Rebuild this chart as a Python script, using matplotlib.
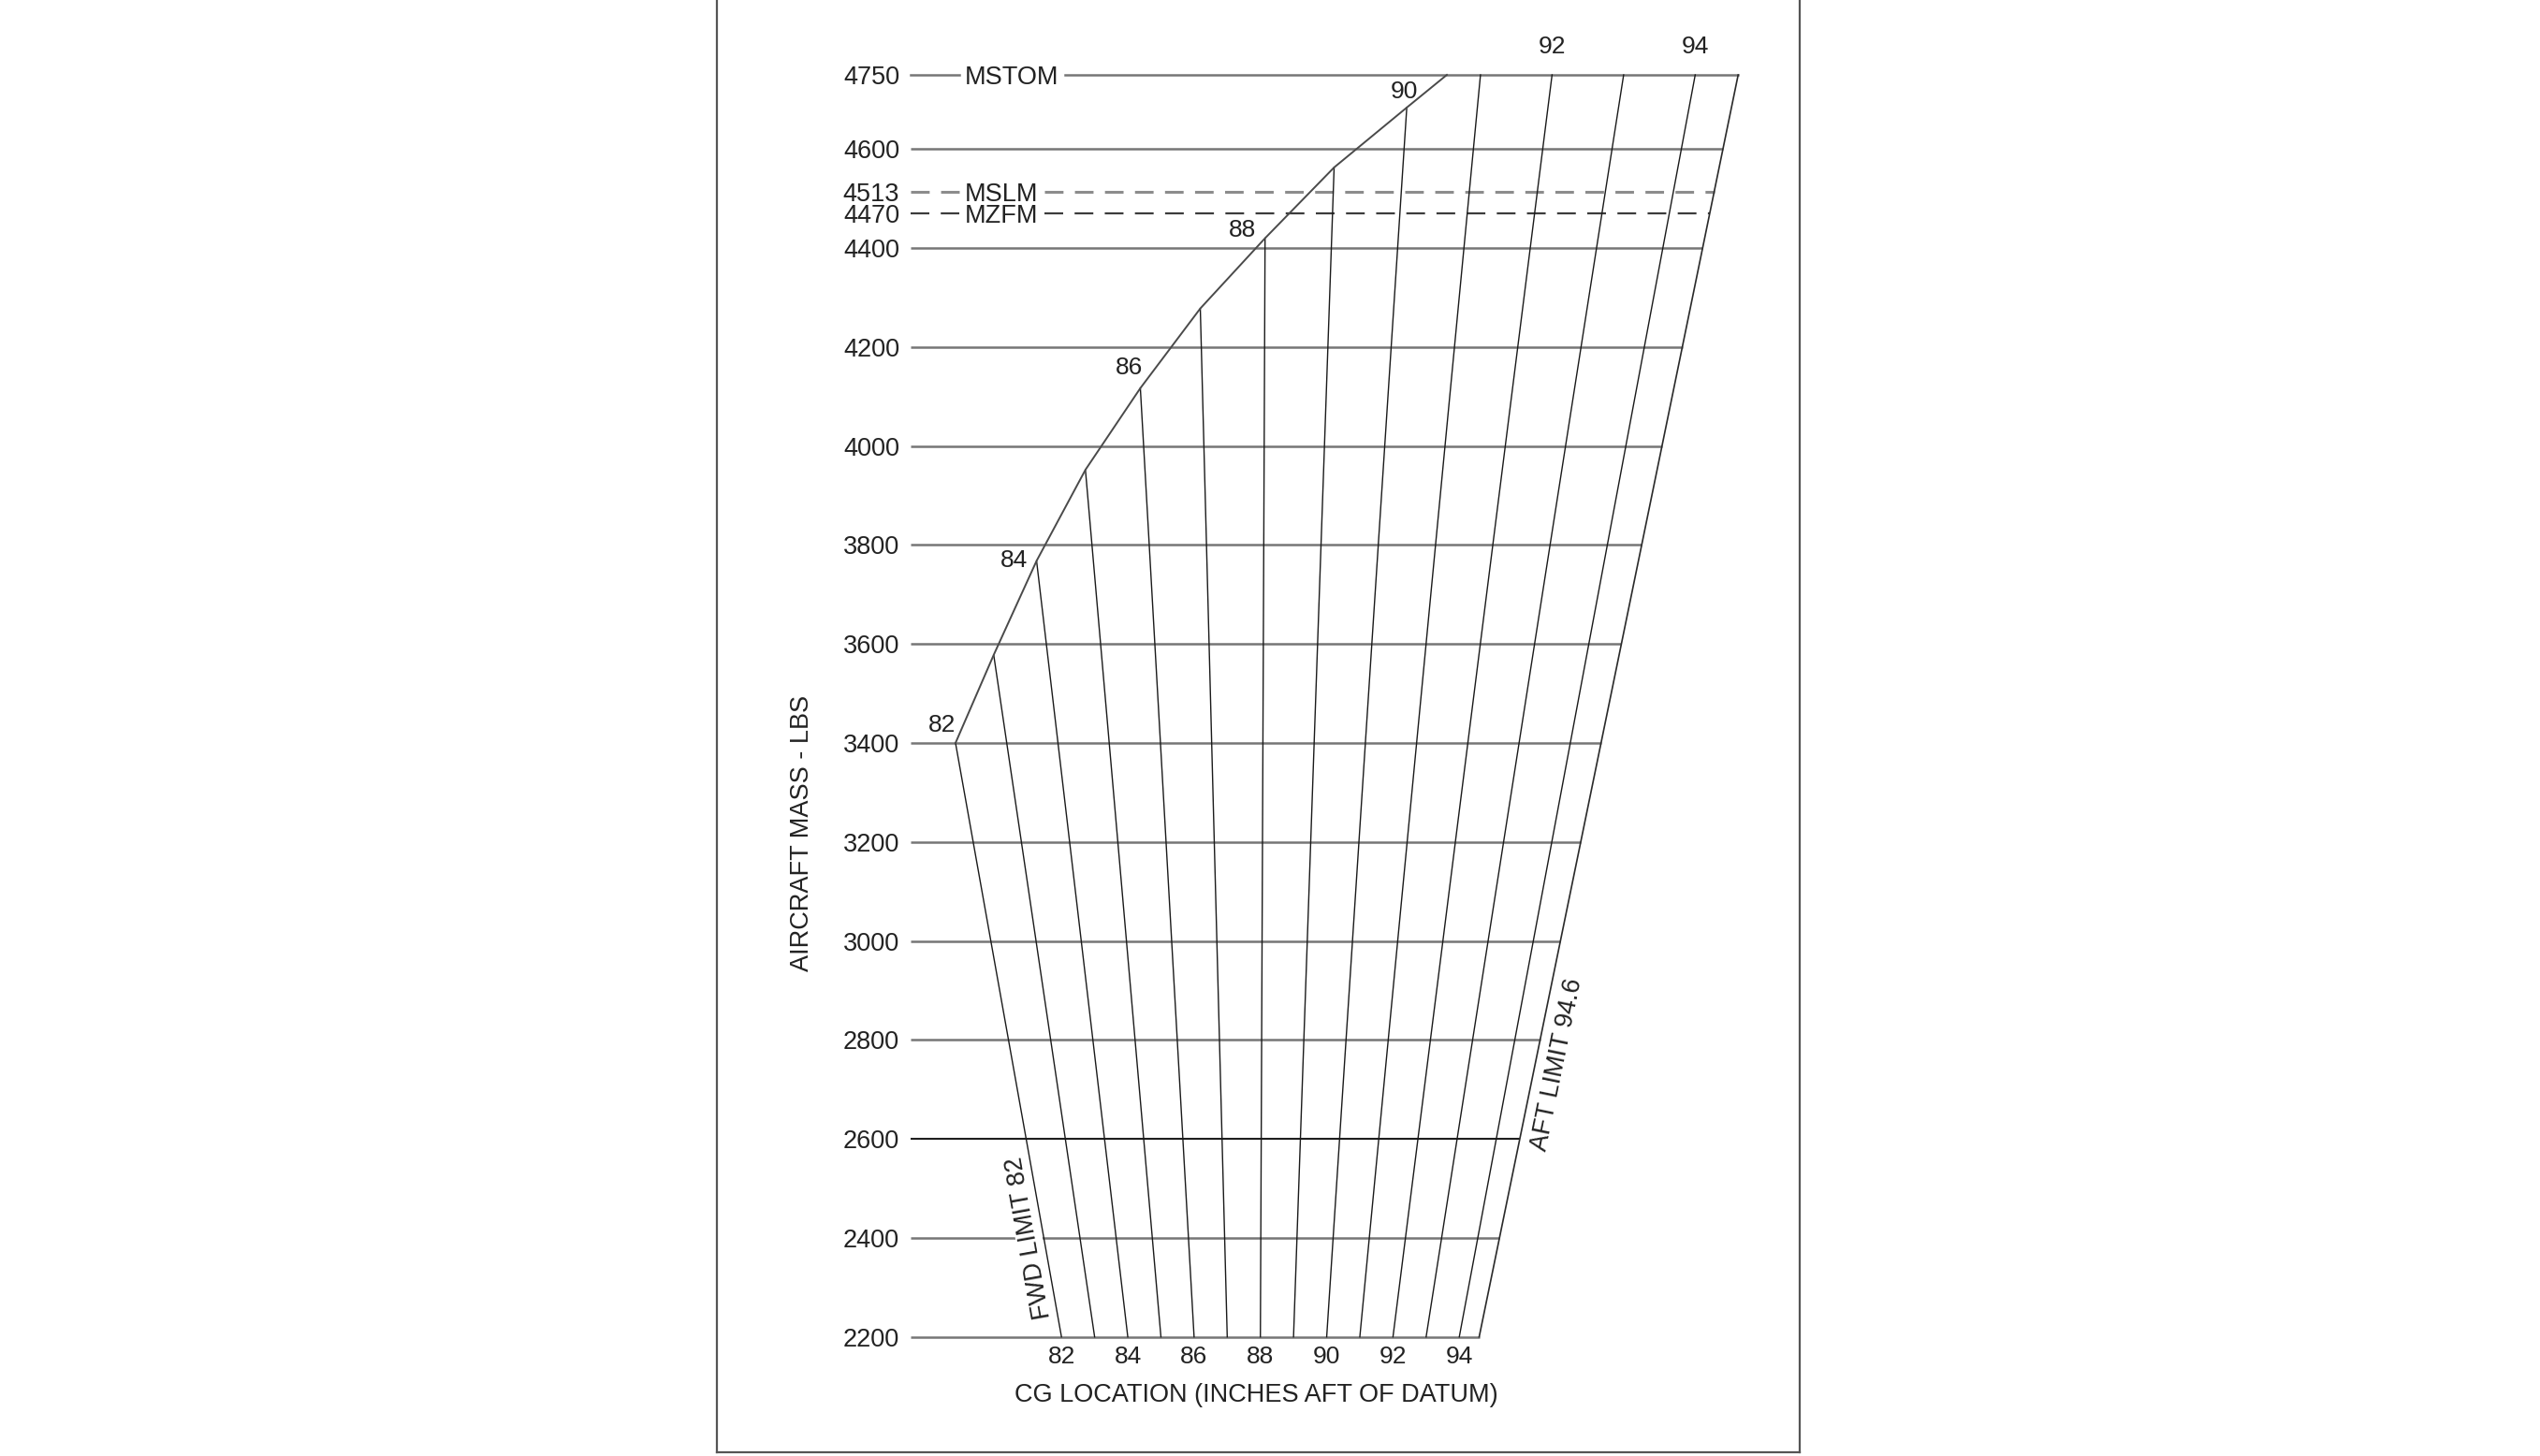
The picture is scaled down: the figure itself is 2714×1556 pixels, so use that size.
import numpy as np
import matplotlib.pyplot as plt

plt.rcParams['font.family'] = ['Liberation Sans', 'DejaVu Sans']

# horizontal mass lines (lbs)
grid_mass = [2200, 2400, 2600, 2800, 3000, 3200, 3400, 3600, 3800, 4000, 4200, 4400, 4600]
limit_mass = [4750, 4513, 4470]
limit_name = ['MSTOM', 'MSLM', 'MZFM']

# CG lines (inches aft of datum)
cg_values = [82, 83, 84, 85, 86, 87, 88, 89, 90, 91, 92, 93, 94]
# forward limit curve above 3400 lbs
fwd_cg = [82, 83, 84, 85, 86, 87, 88, 89, 90, 90.53]
fwd_mass = [3400, 3578, 3768, 3952, 4117, 4278, 4420, 4563, 4684, 4750]
aft_cg = 94.6
min_mass = 2200
max_mass = 4750

bottom_ticks = [82, 84, 86, 88, 90, 92, 94]
curve_ticks = [82, 84, 86, 88, 90]
top_ticks = [92, 94]

CG_REF = 87.86      # the cg line that stands upright on the chart


def mx(cg, m):
    # horizontal chart position (moment about the upright line)
    return (cg - CG_REF) * m / 1000.0


W, H = 2714, 1556
fig = plt.figure(figsize=(W / 100, H / 100), dpi=100)
ax = fig.add_axes([766 / W, 4 / H, 1157 / W, 1552 / H])
ax.set_xlim(-35.76, 36.1)
ax.set_ylim(1966.8, 4901.3)
ax.set_xticks([])
ax.set_yticks([])
ax.spines['top'].set_visible(False)
for s in ['left', 'right', 'bottom']:
    ax.spines[s].set_color('#555555')
    ax.spines[s].set_linewidth(1.6)

X_START = -22.9
TXT = '#222222'
FS = 19.5

# horizontal lines
for m in grid_mass:
    if m == 2600:
        col, lw = '#1e1e1e', 1.5
    else:
        col, lw = '#767676', 1.8
    ax.plot([X_START, mx(aft_cg, m)], [m, m], color=col, lw=lw, zorder=2,
            solid_capstyle='butt')

# cg lines, from the bottom up to the forward curve (or top)
for cg in cg_values:
    top = np.interp(cg, fwd_cg, fwd_mass)
    ax.plot([mx(cg, min_mass), mx(cg, top)], [min_mass, top],
            color='#1a1a1a', lw=1.0, zorder=3)

# aft limit
ax.plot([mx(aft_cg, min_mass), mx(aft_cg, max_mass)], [min_mass, max_mass],
        color='#2a2a2a', lw=1.2, zorder=3)

# forward limit curve
ax.plot([mx(c, m) for c, m in zip(fwd_cg, fwd_mass)], fwd_mass,
        color='#4a4a4a', lw=1.4, zorder=3)

# mass labels
for m in grid_mass + limit_mass:
    ax.annotate(str(m), (X_START, m), xytext=(-12, 0), textcoords='offset pixels',
                ha='right', va='center_baseline', fontsize=FS, color=TXT)

# limit lines, broken around their names
limit_style = [dict(color='#767676', lw=1.8),
               dict(color='#8c8c8c', lw=2.2, dashes=(6.5, 4)),
               dict(color='#3c3c3c', lw=1.6, dashes=(9, 5.5))]
fig.canvas.draw()
renderer = fig.canvas.get_renderer()
inv = ax.transData.inverted()
for m, name, st in zip(limit_mass, limit_name, limit_style):
    t = ax.annotate(name, (X_START, m), xytext=(58, 0), textcoords='offset pixels',
                    ha='left', va='center_baseline', fontsize=FS, color=TXT)
    bb = t.get_window_extent(renderer)
    xa = inv.transform((bb.x0 - 6, 0))[0]
    xb = inv.transform((bb.x1 + 6, 0))[0]
    ax.plot([X_START, xa], [m, m], zorder=2, **st)
    ax.plot([xb, mx(aft_cg, m)], [m, m], zorder=2, **st)

# cg labels
curve_offsets = [(-14, 22), (-24, 3), (-12, 24), (-24, 11), (-3, 19)]
for cg, off in zip(curve_ticks, curve_offsets):
    m = np.interp(cg, fwd_cg, fwd_mass)
    ax.annotate(str(cg), (mx(cg, m), m), xytext=off, textcoords='offset pixels',
                ha='center', va='center_baseline', fontsize=FS - 0.5, color=TXT)
for cg in top_ticks:
    ax.annotate(str(cg), (mx(cg, max_mass), max_mass), xytext=(0, 33),
                textcoords='offset pixels', ha='center', va='center_baseline',
                fontsize=FS - 0.5, color=TXT)
for cg in bottom_ticks:
    ax.annotate(str(cg), (mx(cg, min_mass), min_mass), xytext=(0, -19),
                textcoords='offset pixels', ha='center', va='center_baseline',
                fontsize=FS - 0.5, color=TXT)

# limit names along the slanted edges
p0 = ax.transData.transform((mx(fwd_cg[0], min_mass), min_mass))
p1 = ax.transData.transform((mx(fwd_cg[0], fwd_mass[0]), fwd_mass[0]))
ang_f = np.degrees(np.arctan2(p1[1] - p0[1], p1[0] - p0[0]))
ax.annotate('FWD LIMIT 82', (mx(fwd_cg[0], 2400), 2400), xytext=(-16, 0),
            textcoords='offset pixels', ha='center', va='center', rotation=ang_f,
            rotation_mode='anchor', fontsize=FS, color=TXT, zorder=2.5,
            bbox=dict(boxstyle='square,pad=0.05', fc='white', ec='none'))

p0 = ax.transData.transform((mx(aft_cg, min_mass), min_mass))
p1 = ax.transData.transform((mx(aft_cg, max_mass), max_mass))
ang_a = np.degrees(np.arctan2(p1[1] - p0[1], p1[0] - p0[0]))
ax.annotate('AFT LIMIT 94.6', (mx(aft_cg, 2750), 2750), xytext=(24, 0),
            textcoords='offset pixels', ha='center', va='center', rotation=ang_a,
            rotation_mode='anchor', fontsize=FS, color=TXT)

# axis titles
fig.text(857 / W, 1 - 890 / H, 'AIRCRAFT MASS - LBS', rotation=90,
         ha='center', va='center', fontsize=FS, color=TXT)
fig.text(1342 / W, 1 - 1491 / H, 'CG LOCATION (INCHES AFT OF DATUM)',
         ha='center', va='center', fontsize=FS, color=TXT)

fig.savefig('out.png', dpi=100)
